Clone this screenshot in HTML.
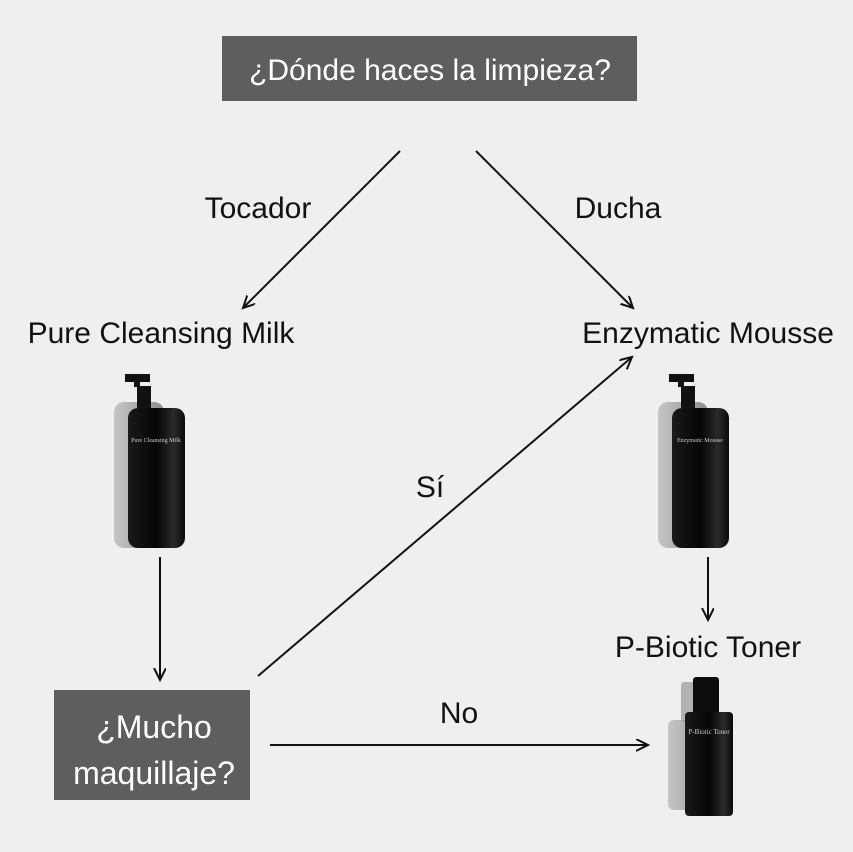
<!DOCTYPE html>
<html><head><style>
html,body{margin:0;padding:0;background:#efefef;}
svg{display:block;font-family:"Liberation Sans","DejaVu Sans",sans-serif;}
</style></head><body>
<svg width="853" height="852" viewBox="0 0 853 852">
<defs>
<marker id="a" markerWidth="14" markerHeight="14" refX="12" refY="6" orient="auto" markerUnits="userSpaceOnUse">
<path d="M0,0 L12,6 L0,12" fill="none" stroke="#111" stroke-width="2"/></marker>
<linearGradient id="g" x1="0" x2="1"><stop offset="0" stop-color="#1a1a1a"/><stop offset="0.5" stop-color="#050505"/><stop offset="0.8" stop-color="#2a2a2a"/><stop offset="1" stop-color="#0a0a0a"/></linearGradient>
<linearGradient id="s" x1="0" x2="1"><stop offset="0" stop-color="#bbb"/><stop offset="1" stop-color="#777"/></linearGradient>
</defs>
<rect width="853" height="852" fill="#efefef"/>
<rect x="222" y="36" width="415" height="65" fill="#5e5e5e"/>
<text x="430" y="80" font-size="30" fill="#fff" text-anchor="middle">¿Dónde haces la limpieza?</text>
<rect x="54" y="690" width="196" height="110" fill="#5e5e5e"/>
<text x="154" y="738" font-size="32" fill="#fff" text-anchor="middle">¿Mucho</text>
<text x="154" y="784" font-size="32" fill="#fff" text-anchor="middle">maquillaje?</text>
<g stroke="#111" stroke-width="2" fill="none" marker-end="url(#a)">
<line x1="400" y1="151" x2="243" y2="308"/>
<line x1="476" y1="151" x2="633" y2="308"/>
<line x1="160" y1="557" x2="160" y2="680"/>
<line x1="258" y1="676" x2="632" y2="357"/>
<line x1="270" y1="745" x2="648" y2="745"/>
<line x1="708" y1="557" x2="708" y2="620"/>
</g>
<g font-size="30" fill="#111" text-anchor="middle">
<text x="258" y="218">Tocador</text>
<text x="618" y="218">Ducha</text>
<text x="161" y="343">Pure Cleansing Milk</text>
<text x="708" y="343">Enzymatic Mousse</text>
<text x="430" y="497">Sí</text>
<text x="459" y="723">No</text>
<text x="708" y="657">P-Biotic Toner</text>
</g>
<g>
<rect x="114" y="402" width="50" height="146" rx="10" fill="url(#s)" opacity="0.8"/>
<path d="M125,374 h25 v8 h-10 v5 h-6 v-5 h-9z" fill="#111"/>
<rect x="137" y="386" width="14" height="26" fill="#111"/>
<rect x="128" y="408" width="57" height="140" rx="10" fill="url(#g)"/>
<text x="156" y="442" font-size="6" fill="#ccc" text-anchor="middle" font-family="Liberation Serif">Pure Cleansing Milk</text>
</g>
<g transform="translate(544,0)">
<rect x="114" y="402" width="50" height="146" rx="10" fill="url(#s)" opacity="0.8"/>
<path d="M125,374 h25 v8 h-10 v5 h-6 v-5 h-9z" fill="#111"/>
<rect x="137" y="386" width="14" height="26" fill="#111"/>
<rect x="128" y="408" width="57" height="140" rx="10" fill="url(#g)"/>
<text x="156" y="442" font-size="6" fill="#ccc" text-anchor="middle" font-family="Liberation Serif">Enzymatic Mousse</text>
</g>
<rect x="668" y="720" width="50" height="90" rx="6" fill="url(#s)" opacity="0.8"/>
<rect x="681" y="682" width="20" height="40" rx="3" fill="#999" opacity="0.7"/>
<rect x="693" y="677" width="26" height="40" rx="3" fill="#0c0c0c"/>
<rect x="685" y="712" width="48" height="104" rx="4" fill="url(#g)"/>
<text x="709" y="734" font-size="7" fill="#ccc" text-anchor="middle" font-family="Liberation Serif">P-Biotic Toner</text>
</svg>
</body></html>
